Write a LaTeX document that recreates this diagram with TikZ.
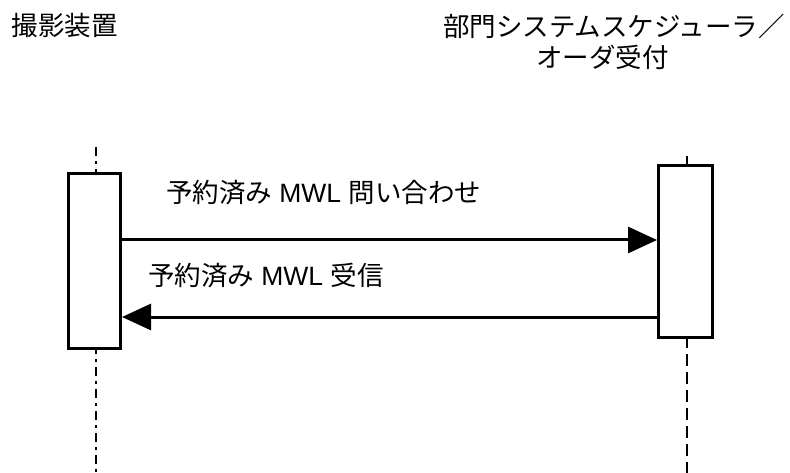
\documentclass[tikz,border=0pt]{standalone}
\usepackage{fontspec}
\setmainfont{Liberation Sans}
\newfontfamily\jp{Noto Sans CJK JP}
\usetikzlibrary{arrows.meta}
\begin{document}
\begin{tikzpicture}[x=1pt,y=-1pt,
  every node/.style={inner sep=0pt, outer sep=0pt},
  actbox/.style={draw, line width=3pt, fill=white, outer sep=1.5pt, minimum width=52pt},
  ttl/.style={font=\fontsize{26.5}{30}\selectfont\jp, anchor=west},
  lbl/.style={font=\fontsize{26.5}{30}\selectfont, anchor=west},
  msg/.style={line width=3pt, -{Triangle[length=29pt,width=26pt]}},
  lifeA/.style={line width=2pt, dash pattern=on 9pt off 5pt on 3pt off 5pt},
  lifeB/.style={line width=2pt, dash pattern=on 12pt off 6pt}]
\useasboundingbox (0,0) rectangle (790,473);
% titles
\node[ttl] (t1) at (12,25) {撮影装置};
\node[ttl] (t2) at (443,26) {部門システムスケジューラ／};
\node[ttl] (t3) at (536,57) {オーダ受付};
% lifelines
\coordinate (ltop) at (96,147);
\coordinate (lbot) at (96,473);
\coordinate (rtop) at (687,156);
\coordinate (rbot) at (687,473);
\draw[lifeA] (ltop) -- (lbot);
\draw[lifeB] (rtop) -- (rbot);
% activation boxes
\node[actbox, minimum height=175pt] (lbox) at (94.5,261) {};
\node[actbox, minimum height=172pt, minimum width=54pt] (rbox) at (685.5,251.5) {};
% messages
\draw[msg] (lbox.east |- 0,240) -- (rbox.west |- 0,240);
\draw[msg] (rbox.west |- 0,317) -- (lbox.east |- 0,317);
% labels
\node[lbl] (m1) at (166,193) {{\jp 予約済み} MWL {\jp 問い合わせ}};
\node[lbl] (m2) at (148,276) {{\jp 予約済み} MWL {\jp 受信}};
\end{tikzpicture}
\end{document}
